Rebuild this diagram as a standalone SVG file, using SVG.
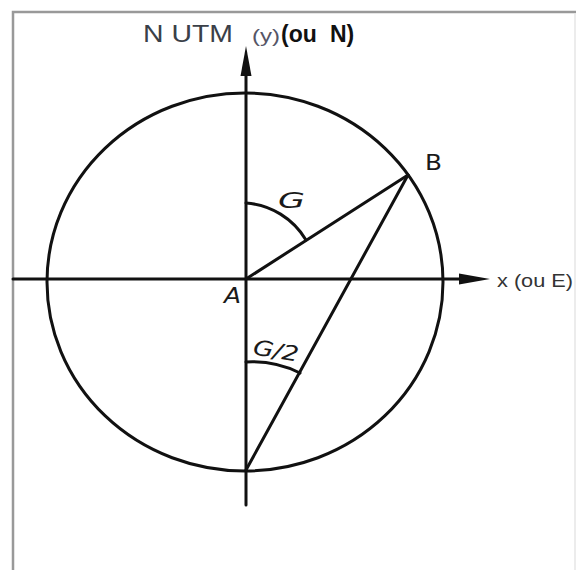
<svg xmlns="http://www.w3.org/2000/svg" width="576" height="570" viewBox="0 0 576 570">
<style>
.ln{stroke:#111;stroke-width:3;fill:none;stroke-linecap:round}
.lbl{font-family:"DejaVu Sans","Liberation Sans",sans-serif;font-size:21px;fill:#1a1a1a}
</style>
<rect width="576" height="570" fill="#fff"/>
<path d="M13,570 V12 H576" fill="none" stroke="#999" stroke-width="2.5"/>
<line x1="575" y1="14" x2="575" y2="570" stroke="#e6e6e6" stroke-width="1.5"/>
<g id="circle"><ellipse cx="245" cy="282" rx="198" ry="189" class="ln"/></g>
<g id="axes">
<line x1="13" y1="279" x2="462" y2="279" class="ln"/>
<polygon points="490,279 459,273.5 459,284.5" fill="#111"/>
<line x1="246" y1="72" x2="246" y2="505" class="ln"/>
<polygon points="246,46 240.5,76 251.5,76" fill="#111"/>
</g>
<g id="connectors">
<line x1="246" y1="279" x2="408" y2="175" class="ln"/>
<line x1="246" y1="470" x2="408" y2="175" class="ln"/>
<path d="M246,203 A76,76 0 0 1 306,240" class="ln" stroke-width="2.5"/>
<path d="M246,362 A108,108 0 0 1 300,373" class="ln" stroke-width="2.5"/>
</g>
<g id="title">
<text x="143" y="42" font-family="Liberation Sans,sans-serif" font-size="23" fill="#3a4048" textLength="90" lengthAdjust="spacingAndGlyphs">N UTM</text>
<text x="252" y="42" font-family="Liberation Sans,sans-serif" font-size="18" fill="#556" textLength="28" lengthAdjust="spacingAndGlyphs">(y)</text>
<text x="281" y="42" font-family="Liberation Sans,sans-serif" font-size="23" font-weight="bold" fill="#111">(ou</text>
<text x="330" y="42" font-family="Liberation Sans,sans-serif" font-size="23" font-weight="bold" fill="#111">N)</text>
</g>
<g id="xlabel"><text x="497" y="287" font-family="Liberation Sans,sans-serif" font-size="18" fill="#333" textLength="76" lengthAdjust="spacingAndGlyphs">x (ou E)</text></g>
<g id="B"><text x="425" y="170" class="lbl" textLength="17" lengthAdjust="spacingAndGlyphs">B</text></g>
<g id="A"><text x="224" y="303" class="lbl" font-style="italic" textLength="17" lengthAdjust="spacingAndGlyphs">A</text></g>
<g id="G"><text x="278" y="208" class="lbl" font-style="italic" textLength="27" lengthAdjust="spacingAndGlyphs">G</text></g>
<g id="G2"><text x="276" y="358" class="lbl" font-style="italic" text-anchor="middle" transform="rotate(9 276 351)" textLength="46" lengthAdjust="spacingAndGlyphs">G/2</text></g>
</svg>
